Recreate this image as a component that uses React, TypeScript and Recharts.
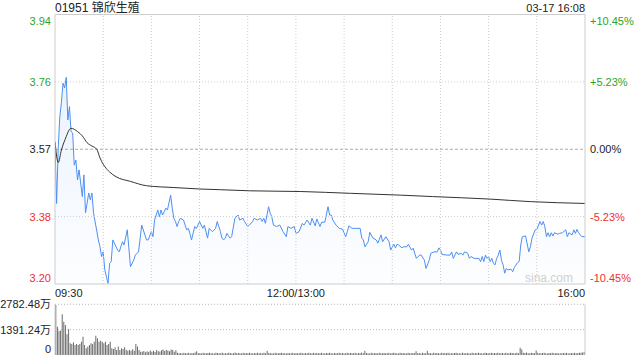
import React from 'react'
import { ComposedChart, Area, Line, XAxis, YAxis, ReferenceLine, BarChart, Bar } from 'recharts'

const stockTitle = '01951 锦欣生殖'
const stamp = '03-17 16:08'
const prevClose = 3.57

const priceTicks = [3.197, 3.3835, 3.57, 3.7565, 3.943]
const priceLabels = ['3.20', '3.38', '3.57', '3.76', '3.94']
const pctLabels = ['-10.45%', '-5.23%', '0.00%', '+5.23%', '+10.45%']

// minutes since 09:30 (lunch break removed), 330 = 16:00
const timeTicks = [0, 150, 330]
const timeLabels = ['09:30', '12:00/13:00', '16:00']
const gridMinutes = [30, 60, 90, 120, 150, 180, 210, 240, 270, 300]

const priceMin = [
  0, 1, 2, 3, 4, 5, 6, 7, 8, 9, 10, 11, 12, 13, 14, 15, 17, 18, 19, 21, 22, 23, 24, 27, 28, 29, 30, 31, 33, 34,
  35, 36, 39, 40, 42, 43, 45, 47, 49, 50, 52, 54, 57, 58, 60, 61, 62, 64, 65, 66, 67, 68, 69, 70, 72, 73, 74, 75,
  76, 77, 78, 80, 82, 83, 84, 85, 87, 88, 89, 90, 92, 93, 95, 96, 98, 100, 101, 102, 103, 104, 105, 106, 107, 109,
  110, 112, 114, 115, 117, 118, 120, 121, 123, 124, 126, 128, 129, 130, 131, 133, 134, 135, 136, 138, 140, 142, 144,
  145, 147, 149, 150, 152, 154, 155, 157, 159, 160, 162, 163, 165, 166, 168, 170, 171, 172, 173, 175, 177, 179, 181,
  182, 183, 185, 190, 191, 192, 193, 195, 196, 198, 200, 201, 203, 204, 206, 208, 209, 211, 212, 213, 214, 216, 217,
  219, 220, 222, 223, 224, 225, 227, 228, 230, 231, 233, 234, 236, 238, 239, 240, 241, 244, 246, 247, 248, 250, 251,
  253, 254, 255, 257, 258, 259, 261, 264, 265, 266, 267, 268, 269, 270, 271, 272, 273, 274, 275, 276, 277, 278, 279,
  280, 281, 282, 284, 285, 286, 288, 289, 290, 291, 293, 295, 296, 297, 299, 300, 302, 303, 304, 305, 306, 307, 308,
  309, 310, 311, 313, 314, 316, 318, 319, 320, 322, 323, 324, 325, 326, 328, 330,
]
const priceVal = [
  3.59, 3.42, 3.573, 3.66, 3.70, 3.753, 3.740, 3.769, 3.651, 3.688, 3.619, 3.615, 3.526, 3.540, 3.485, 3.513, 3.439,
  3.499, 3.394, 3.449, 3.430, 3.449, 3.394, 3.319, 3.300, 3.273, 3.286, 3.236, 3.199, 3.254,
  3.259, 3.319, 3.291, 3.286, 3.314, 3.305, 3.347, 3.245, 3.263, 3.277, 3.286, 3.360, 3.319, 3.319, 3.342, 3.328,
  3.374, 3.402, 3.383, 3.402, 3.388, 3.397, 3.407, 3.402, 3.443, 3.407, 3.379, 3.370,
  3.356, 3.370, 3.379, 3.374, 3.347, 3.351, 3.337, 3.319, 3.356, 3.351, 3.360, 3.370, 3.351, 3.360, 3.324, 3.351,
  3.342, 3.351, 3.370, 3.356, 3.342, 3.324, 3.319, 3.324, 3.337, 3.324,
  3.328, 3.379, 3.388, 3.374, 3.379, 3.370, 3.356, 3.360, 3.370, 3.379, 3.374, 3.379, 3.370, 3.379, 3.365, 3.411,
  3.393, 3.383, 3.360, 3.356, 3.360, 3.342, 3.328,
  3.356, 3.351, 3.356, 3.337, 3.342, 3.365, 3.360, 3.374, 3.360, 3.379, 3.358, 3.377, 3.356, 3.368, 3.368, 3.411,
  3.388, 3.388, 3.374, 3.360, 3.351, 3.349, 3.328,
  3.342, 3.358, 3.351, 3.351, 3.324, 3.319, 3.300, 3.314, 3.340, 3.324, 3.319, 3.310, 3.333, 3.314, 3.328, 3.314,
  3.291, 3.307, 3.297, 3.307, 3.305, 3.297, 3.300,
  3.300, 3.307, 3.291, 3.296, 3.282, 3.268, 3.277, 3.277, 3.263, 3.240, 3.263, 3.282, 3.286, 3.286, 3.297, 3.291,
  3.279, 3.277, 3.277, 3.286, 3.268, 3.286, 3.279,
  3.282, 3.277, 3.286, 3.282, 3.268, 3.273, 3.268, 3.268, 3.259, 3.273, 3.259, 3.277, 3.268, 3.273, 3.259, 3.268,
  3.254, 3.250, 3.268, 3.277, 3.291, 3.263, 3.250,
  3.227, 3.240, 3.236, 3.238, 3.231, 3.243, 3.256, 3.259, 3.305, 3.328, 3.330, 3.286, 3.300, 3.324, 3.347, 3.348,
  3.370, 3.360, 3.370, 3.356, 3.328, 3.339, 3.328,
  3.339, 3.330, 3.339, 3.335, 3.337, 3.339, 3.347, 3.328, 3.339, 3.333, 3.347, 3.337, 3.348, 3.339, 3.328, 3.328,
]

const avgMin = [0, 2, 4, 7, 9, 10, 14, 17, 20, 23, 26, 28, 31, 34, 38, 47, 57, 74, 90, 103, 121, 153, 184, 215, 235, 271, 296, 330]
const avgVal = [
  3.591, 3.533, 3.568, 3.605, 3.625, 3.628, 3.619, 3.607, 3.588, 3.579, 3.570, 3.546, 3.522, 3.507, 3.494, 3.481,
  3.469, 3.464, 3.460, 3.458, 3.455, 3.453, 3.448, 3.443, 3.439, 3.432, 3.425, 3.420,
]

// volume per minute, in 万
const volTicks = [0, 1391.24, 2782.48]
const volLabels = ['0', '1391.24万', '2782.48万']
const volume = [
  2750, 1550, 1320, 1350, 2230, 1830, 1650, 1140, 1410, 640,
  610, 700, 550, 600, 550, 600, 730, 1000, 550, 370,
  460, 550, 650, 600, 730, 1060, 920, 730, 780, 730,
  640, 730, 550, 600, 730, 370, 330, 420, 280, 460,
  280, 370, 330, 420, 280, 240, 280, 240, 320, 240,
  600, 460, 280, 180,
  180, 220, 150, 200, 160, 250, 180, 230, 170, 280,
  200, 190, 260, 300, 220, 280, 250, 200, 300, 280, 180, 260,
  120, 90, 110, 80, 130, 100, 90, 120, 80, 110,
  100, 140, 200, 90, 110, 80, 120, 100, 90, 110,
  130, 90, 100, 80, 120, 110, 90, 100, 130, 80,
  100, 90, 120, 110, 80, 100, 140, 90, 110, 100,
  80, 120, 90, 110, 100, 130, 90, 80, 110, 100,
  120, 90, 110, 80, 130, 100, 240, 110, 90, 100,
  80, 120, 100, 90, 110, 130, 90, 100, 80, 110,
  100, 90, 120, 80, 110, 100, 90, 120, 100, 80,
  110, 90, 130, 100, 80, 120, 90, 110, 100, 90,
  120, 80, 100, 110, 90, 130, 100, 80, 110, 90,
  100, 120, 90, 110, 80, 100, 130, 90, 110, 100,
  90, 120, 80, 110, 100, 140, 90, 230, 110, 100,
  80, 120, 100, 90, 110, 80, 130, 100, 90, 110,
  100, 90, 120, 80, 110, 130, 90, 100, 80, 120,
  90, 110, 100, 80, 120, 100, 90, 110, 100, 210,
  90, 110, 80, 120, 100, 90, 240, 110, 100, 80,
  120, 90, 110, 100, 80, 130, 90, 110, 100, 120,
  80, 100, 90, 110, 130, 90, 100, 80, 120, 100,
  90, 110, 100, 80, 120, 90, 110, 100, 130, 90,
  100, 80, 120, 110, 90, 100, 130, 90, 110, 100,
  120, 90, 100, 110, 80, 130, 100, 90, 120, 110,
  100, 90, 120, 100, 400, 300, 130, 110, 140, 100,
  90, 120, 110, 100, 250, 130, 100, 90, 110, 120,
  100, 80, 110, 90, 120, 100, 90, 110, 80, 100,
  90, 110, 100, 120, 80, 100, 110, 90, 120, 100,
  110, 130, 120, 140, 160,
]

const FONT = "'Liberation Sans', Arial, 'Noto Sans CJK SC', sans-serif"
const UP = '#2aa52a'
const DOWN = '#f03030'
const FLAT = '#222'

const colorOf = (v: number) => (Math.abs(v - prevClose) < 0.001 ? FLAT : v > prevClose ? UP : DOWN)

const priceTable = (() => {
  const rows = new Map<number, { m: number; p?: number; a?: number }>()
  priceMin.forEach((m, i) => rows.set(m, { ...(rows.get(m) || { m }), p: priceVal[i] }))
  avgMin.forEach((m, i) => rows.set(m, { ...(rows.get(m) || { m }), a: avgVal[i] }))
  return [...rows.values()].sort((x, y) => x.m - y.m)
})()

const volTable = volume.map((v, i) => ({ i, v }))

// nudge the outermost labels inside the plot like the original
const edgeShift = (idx: number, last: number) => (idx === 0 ? -6 : idx === last ? 6 : 0)

const LeftTick = (props: any) => {
  const { x, y, payload } = props
  const idx = priceTicks.indexOf(payload.value)
  return (
    <text x={x} y={y + 4 + edgeShift(idx, priceTicks.length - 1)} textAnchor="end" fontSize={11} fontFamily={FONT} fill={colorOf(payload.value)}>
      {priceLabels[idx]}
    </text>
  )
}

const RightTick = (props: any) => {
  const { x, y, payload } = props
  const idx = priceTicks.indexOf(payload.value)
  return (
    <text x={x} y={y + 4 + edgeShift(idx, priceTicks.length - 1)} textAnchor="start" fontSize={11} fontFamily={FONT} fill={colorOf(payload.value)}>
      {pctLabels[idx]}
    </text>
  )
}

const TimeTick = (props: any) => {
  const { x, y, payload } = props
  const idx = timeTicks.indexOf(payload.value)
  const anchor = idx === 0 ? 'start' : idx === timeTicks.length - 1 ? 'end' : 'middle'
  return (
    <text x={x} y={y + 13} textAnchor={anchor} fontSize={11} fontFamily={FONT} fill="#222">
      {timeLabels[idx]}
    </text>
  )
}

const VolTick = (props: any) => {
  const { x, y, payload } = props
  const idx = volTicks.indexOf(payload.value)
  return (
    <text x={x} y={y + 4 + (idx === 0 ? -6 : 0)} textAnchor="end" fontSize={11} fontFamily={FONT} fill="#222">
      {volLabels[idx]}
    </text>
  )
}

export default function App() {
  return (
    <div style={{ position: 'absolute', left: 0, top: 0, width: 640, height: 360, background: '#fff', fontFamily: FONT }}>
      <div style={{ position: 'absolute', left: 55, top: 0, fontSize: 12, lineHeight: '16px', color: '#222' }}>{stockTitle}</div>
      <div style={{ position: 'absolute', right: 55, top: 1, fontSize: 11, lineHeight: '14px', color: '#222' }}>{stamp}</div>

      <div style={{ position: 'absolute', left: 0, top: 0 }}>
        <ComposedChart width={640} height={304} data={priceTable} margin={{ top: 14.5, right: 0, bottom: 0, left: 0 }}>
          <defs>
            <linearGradient id="priceFill" x1="0" y1="0" x2="0" y2="1">
              <stop offset="0%" stopColor="#4d8ff2" stopOpacity={0.18} />
              <stop offset="100%" stopColor="#4d8ff2" stopOpacity={0.02} />
            </linearGradient>
          </defs>
          <XAxis
            dataKey="m"
            type="number"
            domain={[0, 330]}
            ticks={timeTicks}
            tick={<TimeTick />}
            interval={0}
            tickSize={0}
            tickMargin={0}
            height={20}
            axisLine={{ stroke: '#ccc' }}
            tickLine={false}
            allowDataOverflow
          />
          <YAxis
            yAxisId="l"
            domain={[priceTicks[0], priceTicks[priceTicks.length - 1]]}
            ticks={priceTicks}
            tick={<LeftTick />}
            interval={0}
            width={55}
            tickSize={0}
            tickMargin={4}
            axisLine={{ stroke: '#ccc' }}
            tickLine={false}
            allowDataOverflow
          />
          <YAxis
            yAxisId="r"
            orientation="right"
            domain={[priceTicks[0], priceTicks[priceTicks.length - 1]]}
            ticks={priceTicks}
            tick={<RightTick />}
            interval={0}
            width={55}
            tickSize={0}
            tickMargin={5}
            axisLine={{ stroke: '#ccc' }}
            tickLine={false}
            allowDataOverflow
          />
          {gridMinutes.map((m) => (
            <ReferenceLine key={'v' + m} yAxisId="l" x={m} stroke="#ccc" strokeDasharray="1 2" />
          ))}
          <ReferenceLine yAxisId="l" y={priceTicks[1]} stroke="#ccc" strokeDasharray="1 2" />
          <ReferenceLine yAxisId="l" y={priceTicks[3]} stroke="#ccc" strokeDasharray="1 2" />
          <ReferenceLine yAxisId="l" y={priceTicks[2]} stroke="#aaa" strokeDasharray="3 2" />
          <ReferenceLine yAxisId="l" y={priceTicks[4]} stroke="#ccc" />
          <Area
            yAxisId="l"
            type="linear"
            dataKey="p"
            stroke="#4d8ff2"
            strokeWidth={1}
            fill="url(#priceFill)"
            connectNulls
            dot={false}
            activeDot={false}
            isAnimationActive={false}
          />
          <Line
            yAxisId="l"
            type="monotone"
            dataKey="a"
            stroke="#333"
            strokeWidth={1}
            connectNulls
            dot={false}
            activeDot={false}
            isAnimationActive={false}
          />
        </ComposedChart>
      </div>

      <div style={{ position: 'absolute', right: 67, top: 271, fontSize: 12, color: '#cfcfcf' }}>sina.com</div>

      <div style={{ position: 'absolute', left: 0, top: 290 }}>
        <BarChart width={640} height={70} data={volTable} margin={{ top: 14.3, right: 0, bottom: 5, left: 0 }} barCategoryGap="20%">
          <XAxis dataKey="i" hide />
          <YAxis
            yAxisId="v"
            domain={[0, volTicks[2]]}
            ticks={volTicks}
            tick={<VolTick />}
            interval={0}
            width={55}
            tickSize={0}
            tickMargin={4}
            axisLine={{ stroke: '#ccc' }}
            tickLine={false}
            allowDataOverflow
          />
          <YAxis yAxisId="vr" orientation="right" domain={[0, volTicks[2]]} tick={false} width={55} axisLine={{ stroke: '#ccc' }} tickLine={false} />
          <ReferenceLine yAxisId="v" y={volTicks[1]} stroke="#bbb" strokeDasharray="1 2" />
          <ReferenceLine yAxisId="v" y={volTicks[2]} stroke="#bbb" strokeDasharray="1 2" />
          <Bar yAxisId="v" dataKey="v" fill="#666" isAnimationActive={false} />
        </BarChart>
      </div>
    </div>
  )
}
